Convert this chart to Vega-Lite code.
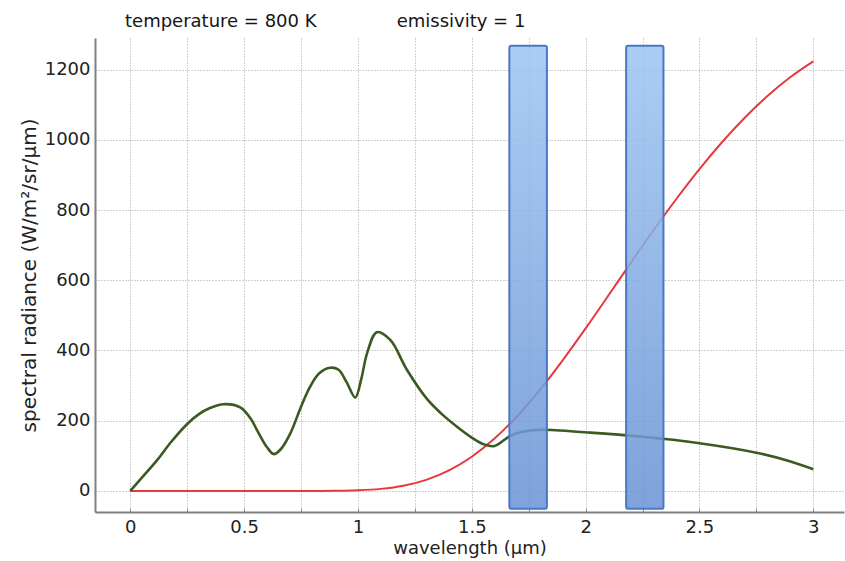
{
  "$schema": "https://vega.github.io/schema/vega-lite/v6.json",
  "autosize": {"type": "none"},
  "padding": {"left": 95, "top": 38, "right": 1, "bottom": 49},
  "width": 749,
  "height": 474,
  "background": "white",
  "title": {
    "text": "temperature = 800 K\u00a0\u00a0\u00a0\u00a0\u00a0\u00a0\u00a0\u00a0\u00a0\u00a0\u00a0\u00a0\u00a0\u00a0emissivity = 1",
    "anchor": "start",
    "frame": "group",
    "dx": 30,
    "offset": -7,
    "font": "DejaVu Sans",
    "fontSize": 18,
    "fontWeight": "normal",
    "color": "#151515",
    "baseline": "alphabetic"
  },
  "config": {
    "view": {"stroke": null},
    "axis": {
      "labelFont": "DejaVu Sans",
      "labelFontSize": 18,
      "labelColor": "#222",
      "titleFont": "DejaVu Sans",
      "titleFontSize": 18,
      "titleFontWeight": "normal",
      "titleColor": "#222",
      "gridColor": "#9a9a9a",
      "gridDash": [1, 2],
      "gridWidth": 1,
      "gridOpacity": 0.9,
      "domainColor": "#808080",
      "domainWidth": 2
    }
  },
  "datasets": {
    "planck": [
      {"wavelength": 0, "radiance": 0},
      {"wavelength": 0.5, "radiance": 0},
      {"wavelength": 0.8, "radiance": 0.03},
      {"wavelength": 0.9, "radiance": 0.42},
      {"wavelength": 1.0, "radiance": 1.84},
      {"wavelength": 1.1, "radiance": 5.86},
      {"wavelength": 1.2, "radiance": 14.8},
      {"wavelength": 1.3, "radiance": 31.5},
      {"wavelength": 1.4, "radiance": 58.4},
      {"wavelength": 1.5, "radiance": 97.3},
      {"wavelength": 1.6, "radiance": 149.1},
      {"wavelength": 1.7, "radiance": 213.4},
      {"wavelength": 1.8, "radiance": 288.5},
      {"wavelength": 1.9, "radiance": 372.6},
      {"wavelength": 2.0, "radiance": 462.8},
      {"wavelength": 2.1, "radiance": 556.5},
      {"wavelength": 2.2, "radiance": 651.0},
      {"wavelength": 2.3, "radiance": 743.8},
      {"wavelength": 2.4, "radiance": 832.9},
      {"wavelength": 2.5, "radiance": 916.7},
      {"wavelength": 2.6, "radiance": 993.9},
      {"wavelength": 2.7, "radiance": 1063.6},
      {"wavelength": 2.8, "radiance": 1125.3},
      {"wavelength": 2.9, "radiance": 1178.8},
      {"wavelength": 3.0, "radiance": 1223.5}
    ],
    "measured": [
      {"wavelength": 0, "radiance": 0},
      {"wavelength": 0.05, "radiance": 37},
      {"wavelength": 0.117, "radiance": 87},
      {"wavelength": 0.18, "radiance": 140},
      {"wavelength": 0.249, "radiance": 190},
      {"wavelength": 0.3, "radiance": 218},
      {"wavelength": 0.35, "radiance": 236},
      {"wavelength": 0.41, "radiance": 247},
      {"wavelength": 0.483, "radiance": 238},
      {"wavelength": 0.53, "radiance": 205},
      {"wavelength": 0.556, "radiance": 174},
      {"wavelength": 0.6, "radiance": 125},
      {"wavelength": 0.63, "radiance": 105},
      {"wavelength": 0.66, "radiance": 118},
      {"wavelength": 0.703, "radiance": 164},
      {"wavelength": 0.75, "radiance": 240},
      {"wavelength": 0.79, "radiance": 297},
      {"wavelength": 0.83, "radiance": 335},
      {"wavelength": 0.878, "radiance": 351},
      {"wavelength": 0.915, "radiance": 345},
      {"wavelength": 0.95, "radiance": 310},
      {"wavelength": 0.988, "radiance": 266},
      {"wavelength": 1.015, "radiance": 320},
      {"wavelength": 1.04, "radiance": 392},
      {"wavelength": 1.083, "radiance": 452},
      {"wavelength": 1.142, "radiance": 430},
      {"wavelength": 1.215, "radiance": 345},
      {"wavelength": 1.303, "radiance": 262},
      {"wavelength": 1.37, "radiance": 218},
      {"wavelength": 1.435, "radiance": 183},
      {"wavelength": 1.5, "radiance": 152},
      {"wavelength": 1.552, "radiance": 133},
      {"wavelength": 1.6, "radiance": 128},
      {"wavelength": 1.669, "radiance": 157},
      {"wavelength": 1.727, "radiance": 169},
      {"wavelength": 1.8, "radiance": 174},
      {"wavelength": 2.02, "radiance": 166},
      {"wavelength": 2.24, "radiance": 155},
      {"wavelength": 2.5, "radiance": 136},
      {"wavelength": 2.75, "radiance": 109},
      {"wavelength": 2.9, "radiance": 84},
      {"wavelength": 3.0, "radiance": 62}
    ],
    "bands": [
      {"start": 1.665, "end": 1.83, "low": -51, "high": 1268},
      {"start": 2.178, "end": 2.342, "low": -51, "high": 1268}
    ]
  },
  "layer": [
    {
      "data": {"name": "planck"},
      "mark": {"type": "line", "color": "#e8383d", "strokeWidth": 2, "interpolate": "monotone"},
      "encoding": {
        "x": {
          "field": "wavelength",
          "type": "quantitative",
          "scale": {"domain": [-0.155, 3.135], "nice": false, "zero": false},
          "axis": {
            "title": "wavelength (µm)",
            "values": [0, 0.25, 0.5, 0.75, 1, 1.25, 1.5, 1.75, 2, 2.25, 2.5, 2.75, 3],
            "labelExpr": "(datum.value * 2) % 1 === 0 ? format(datum.value, '~g') : ''",
            "tickSize": -4,
            "tickColor": "#888",
            "labelPadding": 10,
            "titlePadding": 3
          }
        },
        "y": {
          "field": "radiance",
          "type": "quantitative",
          "scale": {"domain": [-60, 1290], "nice": false, "zero": false},
          "axis": {
            "title": "spectral radiance (W/m²/sr/µm)",
            "titleFontSize": 20,
            "values": [0, 100, 200, 300, 400, 500, 600, 700, 800, 900, 1000, 1100, 1200],
            "format": "d",
            "labelExpr": "datum.value % 200 === 0 ? datum.label : ''",
            "ticks": false,
            "labelPadding": 5,
            "titlePadding": 5
          }
        }
      }
    },
    {
      "data": {"name": "measured"},
      "mark": {"type": "line", "color": "#3b5a1f", "strokeWidth": 2.6, "interpolate": "catmull-rom"},
      "encoding": {
        "x": {"field": "wavelength", "type": "quantitative"},
        "y": {"field": "radiance", "type": "quantitative"}
      }
    },
    {
      "data": {"name": "bands"},
      "mark": {
        "type": "rect",
        "color": {
          "x1": 0, "y1": 0, "x2": 0, "y2": 1, "gradient": "linear",
          "stops": [
            {"offset": 0, "color": "#9cc4f3"},
            {"offset": 1, "color": "#6892d3"}
          ]
        },
        "fillOpacity": 0.85,
        "stroke": "#4a78c2",
        "strokeWidth": 2,
        "cornerRadius": 2
      },
      "encoding": {
        "x": {"field": "start", "type": "quantitative"},
        "x2": {"field": "end"},
        "y": {"field": "high", "type": "quantitative"},
        "y2": {"field": "low"}
      }
    },
    {
      "mark": {"type": "rule", "color": "#808080", "strokeWidth": 2},
      "encoding": {"y": {"datum": 1290}}
    }
  ]
}
